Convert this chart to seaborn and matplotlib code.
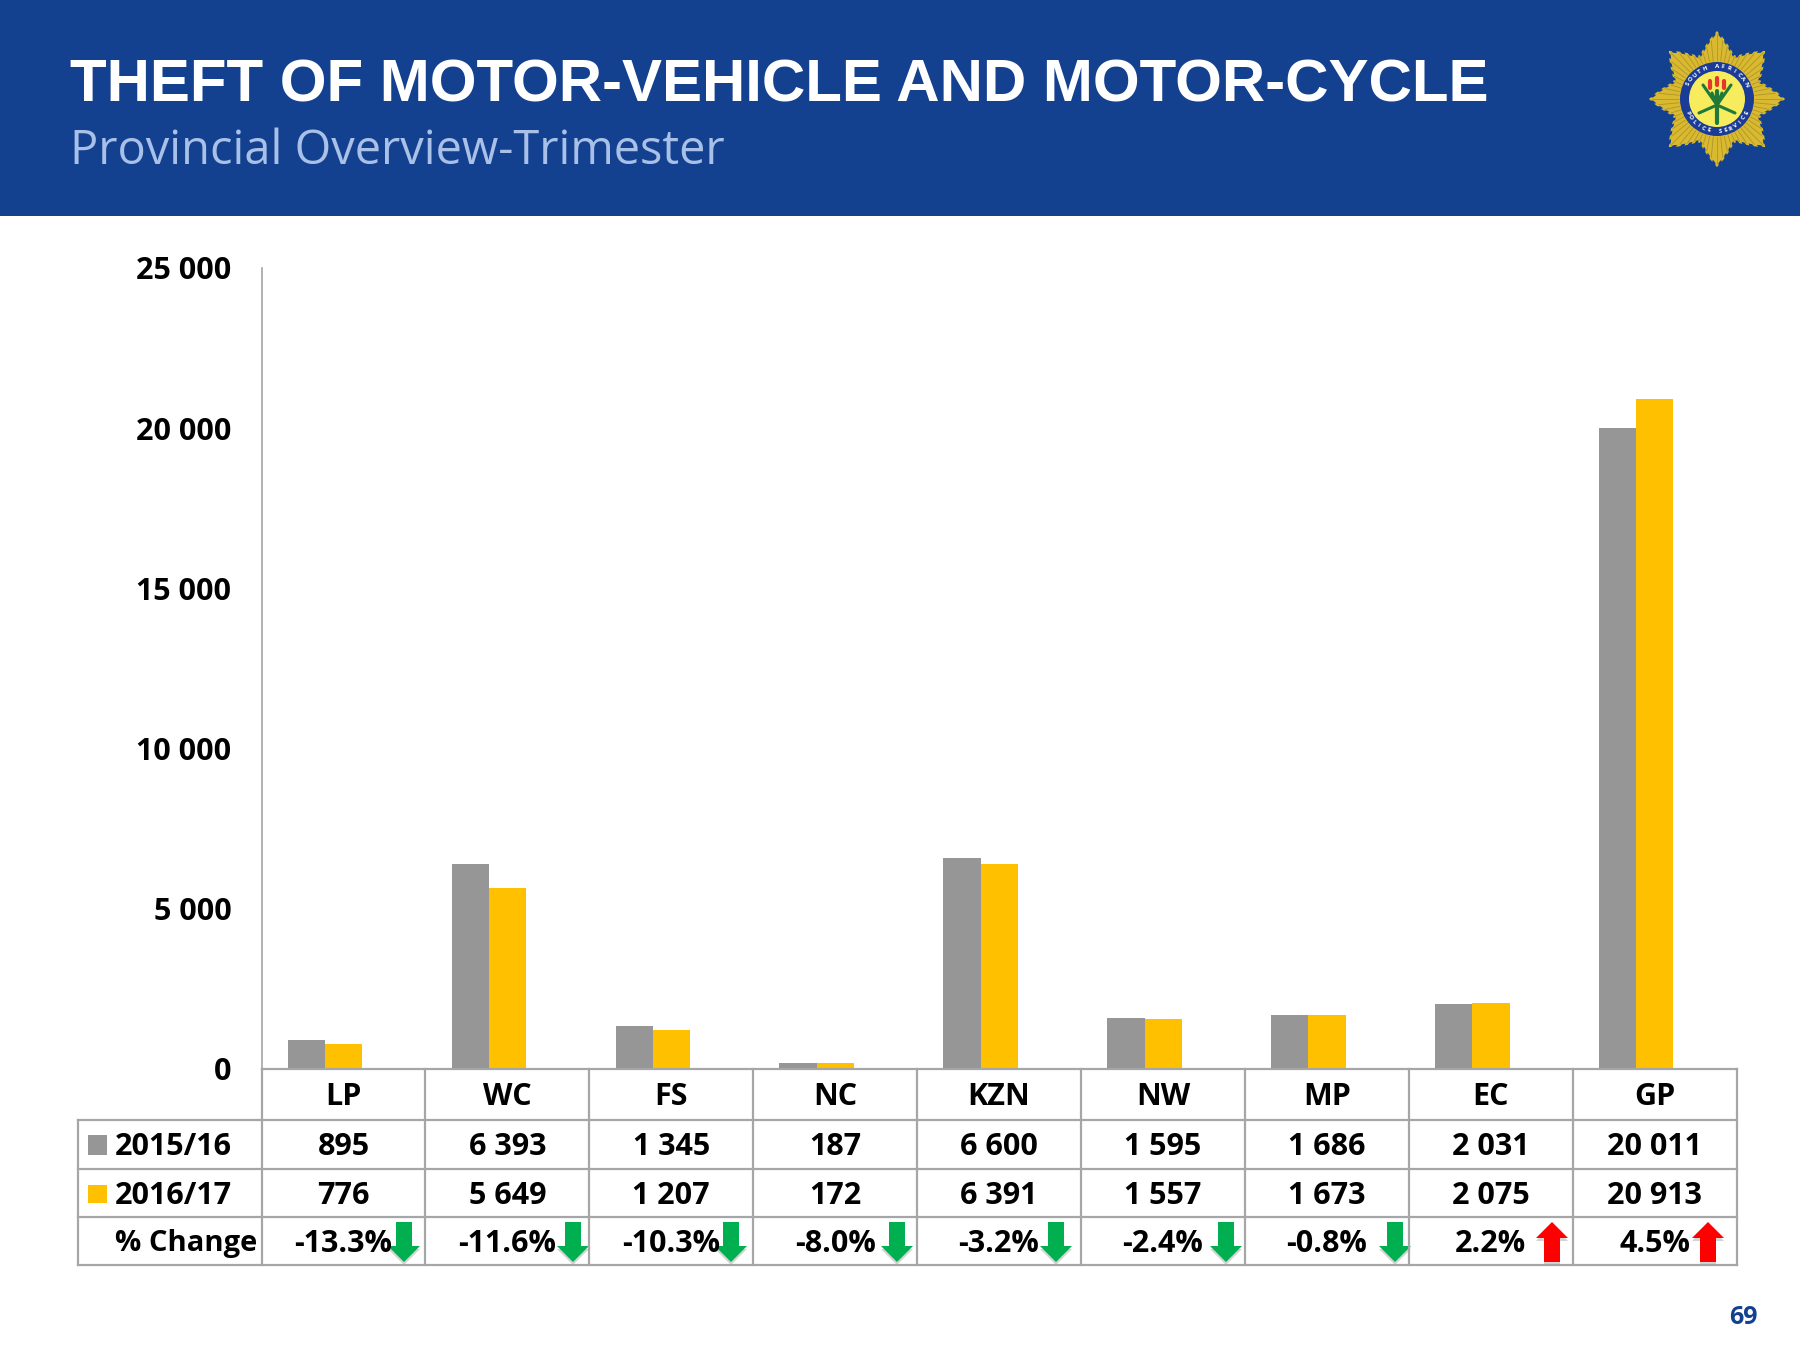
import numpy as np
import pandas as pd
import matplotlib
matplotlib.use('Agg')
import matplotlib.pyplot as plt
import seaborn as sns
from matplotlib.patches import Rectangle, Polygon, Circle

provinces = ['LP', 'WC', 'FS', 'NC', 'KZN', 'NW', 'MP', 'EC', 'GP']
cases_2015 = [895, 6393, 1345, 187, 6600, 1595, 1686, 2031, 20011]
cases_2016 = [776, 5649, 1207, 172, 6391, 1557, 1673, 2075, 20913]
pct_change = ['-13.3%', '-11.6%', '-10.3%', '-8.0%', '-3.2%', '-2.4%', '-0.8%', '2.2%', '4.5%']
years = ['2015/16', '2016/17']
y_ticks = [0, 5000, 10000, 15000, 20000, 25000]

BLUE = '#14418F'
GREY = '#969696'
GOLD = '#FFC000'
LINE = '#A6A6A6'
BODY = 'Open Sans'


def spaced(v):
    return f'{v:,}'.replace(',', ' ')


df = pd.DataFrame({
    'province': provinces * 2,
    'cases': cases_2015 + cases_2016,
    'year': [years[0]] * 9 + [years[1]] * 9,
})

sns.set_theme(style='white')
fig = plt.figure(figsize=(18, 13.5), dpi=100, facecolor='white')

# overlay in pixel coordinates for the banner, table and badge
ov = fig.add_axes([0, 0, 1, 1], zorder=3)
ov.set_xlim(0, 1800)
ov.set_ylim(1350, 0)
ov.axis('off')
ov.patch.set_alpha(0)

# bars sit left of the cell centres in the original, hence the shifted xlim
ax = fig.add_axes([262 / 1800, 1 - 1069 / 1350, 1475 / 1800, 801 / 1350])
sns.barplot(data=df, x='province', y='cases', hue='year', palette=[GREY, GOLD],
            width=0.455, gap=0, saturation=1, linewidth=0, legend=False, ax=ax)
ax.set_xlim(-0.385, 8.615)
ax.set_ylim(0, 25000)
ax.set_yticks(y_ticks)
ax.set_yticklabels([spaced(t) for t in y_ticks], fontsize=22, fontweight='bold',
                   family=BODY, color='black')
ax.set_xticks([])
ax.set_xlabel('')
ax.set_ylabel('')
ax.tick_params(axis='y', length=0, pad=22)
for side in ['top', 'right', 'bottom']:
    ax.spines[side].set_visible(False)
ax.spines['left'].set_color(LINE)
ax.spines['left'].set_linewidth(1.2)

# banner
ov.add_patch(Rectangle((0, 0), 1800, 216, color=BLUE, lw=0))
ov.text(70, 86, 'THEFT OF MOTOR-VEHICLE AND MOTOR-CYCLE', color='white',
        fontsize=43.2, fontweight='bold', family='Liberation Sans', va='center')
ov.text(70, 151, 'Provincial Overview-Trimester', color='#A9C1E8',
        fontsize=33.8, family=BODY, va='center')

# badge
cx, cy = 1717, 99
theta = np.linspace(0, 2 * np.pi, 1441)
tri = np.abs(((theta * 4 / np.pi) % 1) * 2 - 1)
r_star = 47 + 21 * tri ** 1.3 - 2.5 * (np.cos(64 * theta) < 0)
ov.add_patch(Polygon(np.c_[cx + r_star * np.cos(theta), cy + r_star * np.sin(theta)],
                     color='#D9B92F', lw=0))
for a in np.linspace(0, 2 * np.pi, 64, endpoint=False):
    t = abs(((a * 4 / np.pi) % 1) * 2 - 1)
    r = 45 + 20 * t ** 1.3
    ov.plot([cx + 38 * np.cos(a), cx + r * np.cos(a)], [cy + 38 * np.sin(a), cy + r * np.sin(a)],
            color='#B0952A', lw=0.6)
ov.add_patch(Circle((cx, cy), 37, color='#1A3C96', lw=0))
ov.add_patch(Circle((cx, cy), 28, color='#F6EC5E', lw=0))
ov.plot([cx, cx], [cy - 8, cy + 24], color='#1F7A3A', lw=3)
for dx, top in [(-14, -14), (-5, -6), (5, -6), (14, -14)]:
    ov.plot([cx, cx + dx], [cy + 6, cy + top], color='#1F7A3A', lw=2.2)
for dx, dy in [(-18, 14), (18, 14)]:
    ov.plot([cx, cx + dx], [cy + 6, cy + dy], color='#1F7A3A', lw=2.2)
for dx, top in [(-7, -18), (0, -21), (7, -18)]:
    ov.plot([cx + dx, cx + dx], [cy + top, cy + top + 7], color='#E8352B', lw=3)
for word, start, step in [('SOUTH AFRICAN', -90, 10.5), ('POLICE SERVICE', 90, -10)]:
    for i, ch in enumerate(word):
        a = np.deg2rad(start + (i - (len(word) - 1) / 2) * step)
        rot = -np.rad2deg(a) - 90 if start < 0 else -np.rad2deg(a) + 90
        ov.text(cx + 32.5 * np.cos(a), cy + 32.5 * np.sin(a), ch, color='white', fontsize=4.5,
                fontweight='bold', ha='center', va='center', rotation=rot, family=BODY)

# table grid
col_x = 261.5 + np.arange(10) * 1475 / 9
row_y = [1069, 1120, 1169, 1217, 1265]
grid = dict(color=LINE, lw=1.6, solid_capstyle='projecting')
ov.plot([262, 1737], [row_y[0], row_y[0]], **grid)
for y in row_y[1:]:
    ov.plot([78, 1737], [y, y], **grid)
ov.plot([78, 78], [row_y[1], row_y[4]], **grid)
for x in col_x:
    ov.plot([x, x], [row_y[0], row_y[4]], **grid)

cell = dict(fontsize=22, fontweight='bold', family=BODY, color='black', ha='center', va='center')
row_mid = [(row_y[i] + row_y[i + 1]) / 2 + 2.5 for i in range(4)]
centers = (col_x[:-1] + col_x[1:]) / 2
for i in range(9):
    ov.text(centers[i], row_mid[0], provinces[i], **cell)
    ov.text(centers[i], row_mid[1], spaced(cases_2015[i]), **cell)
    ov.text(centers[i], row_mid[2], spaced(cases_2016[i]), **cell)
    ov.text(centers[i], row_mid[3], pct_change[i], **cell)

left = dict(cell, ha='left')
ov.text(115, row_mid[1], years[0], **left)
ov.text(115, row_mid[2], years[1], **left)
ov.text(115, row_mid[3], '% Change', **dict(left, fontsize=21))
ov.add_patch(Rectangle((88, row_mid[1] - 12), 19, 20, color=GREY, lw=0))
ov.add_patch(Rectangle((88, row_mid[2] - 11), 19, 18, color=GOLD, lw=0))

# change arrows
arrow_x = [404, 573, 731, 897, 1056, 1226, 1395, 1552, 1708]
for x, pct in zip(arrow_x, pct_change):
    up = not pct.startswith('-')
    top, bot = 1222, 1262
    if up:
        pts = [(x - 8, bot), (x + 8, bot), (x + 8, top + 16), (x + 16, top + 16), (x, top), (x - 16, top + 16), (x - 8, top + 16)]
    else:
        pts = [(x - 8, top), (x + 8, top), (x + 8, bot - 16), (x + 16, bot - 16), (x, bot), (x - 16, bot - 16), (x - 8, bot - 16)]
    pts = np.array(pts, dtype=float)
    ov.add_patch(Polygon(pts + [0, 3], color='#B8B8B8', alpha=0.6, lw=0))
    ov.add_patch(Polygon(pts, color='#FF0000' if up else '#00B050', lw=0))

ov.text(1743, 1317, '69', color=BLUE, fontsize=18, fontweight='bold', family=BODY,
        ha='center', va='center')

fig.savefig('out.png', dpi=100)
